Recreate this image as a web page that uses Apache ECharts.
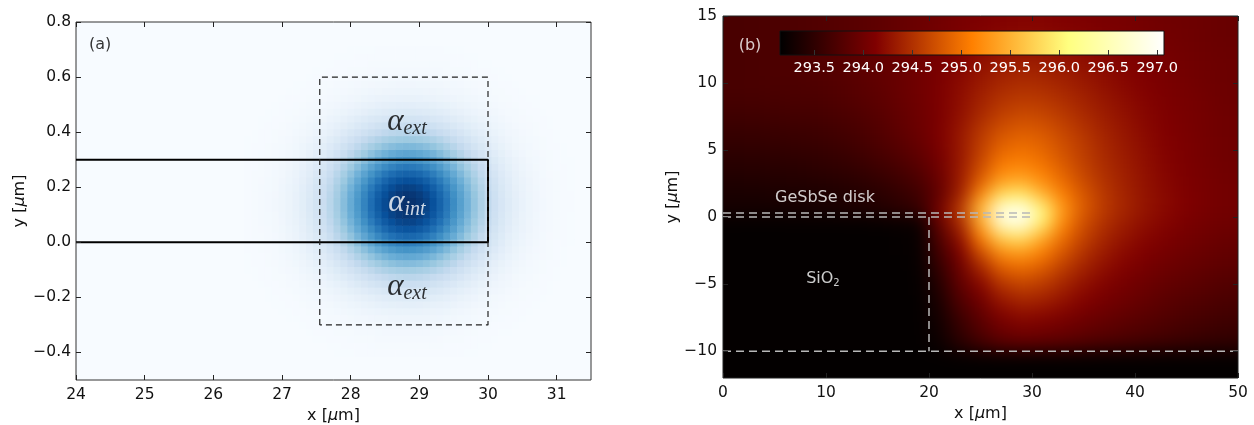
<!DOCTYPE html>
<html><head><meta charset="utf-8">
<script src="https://cdn.jsdelivr.net/npm/echarts@6/dist/echarts.min.js"></script>
<style>
html,body{margin:0;padding:0;background:#fff;}
#wrap{position:relative;width:1254px;height:425px;overflow:hidden;}
#heatB{position:absolute;left:723px;top:16px;width:515px;height:362px;overflow:hidden;background:#000;}
#heatBInner{position:absolute;left:-30px;top:-30px;width:575px;height:422px;filter:blur(9px);}
#main{position:absolute;left:0;top:0;width:1254px;height:425px;}
</style></head>
<body>
<div id="wrap">
  <div id="heatB"><div id="heatBInner"></div></div>
  <div id="main"></div>
</div>
<script>
// ---------- Panel (a): normalised mode intensity, profiles read across the spot ----------
const aProfileX = [26.5,26.6,26.7,26.8,26.9,27.0,27.1,27.2,27.3,27.4,27.5,27.6,27.7,27.8,27.9,28.0,28.1,28.2,28.3,28.4,28.5,28.6,28.7,28.8,28.9,29.0,29.1,29.2,29.3,29.4,29.5,29.6,29.7,29.8,29.9,30.0,30.1,30.2,30.3,30.4,30.5,30.6,30.7,30.8,30.9,31.0,31.1,31.2];
const aProfileXVal = [.007,.01,.014,.02,.028,.04,.057,.076,.105,.139,.181,.231,.291,.359,.433,.514,.598,.681,.763,.837,.9,.95,.984,.999,.995,.972,.932,.876,.808,.731,.648,.564,.482,.403,.33,.267,.211,.162,.123,.093,.068,.05,.036,.023,.015,.01,.006,.004];
const aProfileY = [-0.400,-0.375,-0.350,-0.325,-0.300,-0.275,-0.250,-0.225,-0.200,-0.175,-0.150,-0.125,-0.100,-0.075,-0.050,-0.025,0.000,0.025,0.050,0.075,0.100,0.125,0.150,0.175,0.200,0.225,0.250,0.275,0.300,0.325,0.350,0.375,0.400,0.425,0.450,0.475,0.500,0.525,0.550,0.575,0.600,0.625,0.650,0.675,0.700];
const aProfileYVal = [.007,.01,.015,.022,.032,.047,.065,.093,.127,.171,.224,.286,.358,.438,.526,.616,.705,.79,.866,.927,.972,.996,.998,.978,.938,.879,.806,.723,.634,.543,.455,.374,.299,.235,.181,.135,.1,.071,.05,.036,.023,.016,.011,.007,.005];
// waveguide outline and integration box (x, y in µm)
const aGuide = [[24,0.3],[30,0.3],[30,0],[24,0]];
const aBox = [[27.55,-0.3],[27.55,0.6],[30,0.6],[30,-0.3],[27.55,-0.3]];
const aXTicks = [24,25,26,27,28,29,30,31];
const aYTicks = [-0.4,-0.2,0.0,0.2,0.4,0.6,0.8];

// ---------- Panel (b): temperature map (rise above 293.15 K), 2 µm x 1 µm cells ----------
const bBaseK = 293.15;
const bCellX = [1,3,5,7,9,11,13,15,17,19,21,23,25,27,29,31,33,35,37,39,41,43,45,47,49];
const bCellY = [14.5,13.5,12.5,11.5,10.5,9.5,8.5,7.5,6.5,5.5,4.5,3.5,2.5,1.5,0.5,-0.5,-1.5,-2.5,-3.5,-4.5,-5.5,-6.5,-7.5,-8.5,-9.5,-10.5,-11.5];
const bRiseK = [
 [.56,.57,.58,.60,.62,.65,.68,.72,.77,.82,.87,.92,.96,.99,1.0,1.0,.98,.96,.93,.91,.88,.86,.84,.82,.80],
 [.56,.57,.58,.60,.62,.65,.69,.73,.78,.83,.89,.95,1.0,1.04,1.06,1.05,1.03,1.0,.97,.94,.90,.87,.85,.82,.80],
 [.56,.57,.58,.60,.62,.65,.69,.74,.79,.85,.91,.98,1.05,1.10,1.13,1.12,1.09,1.05,1.01,.97,.93,.89,.86,.83,.81],
 [.56,.57,.58,.60,.62,.65,.69,.74,.80,.86,.93,1.01,1.10,1.17,1.20,1.19,1.15,1.10,1.05,1.00,.95,.91,.87,.84,.82],
 [.56,.57,.58,.60,.62,.65,.69,.74,.80,.86,.94,1.04,1.15,1.24,1.28,1.26,1.21,1.15,1.08,1.02,.97,.92,.88,.85,.82],
 [.55,.56,.57,.58,.60,.63,.67,.72,.79,.86,.95,1.07,1.20,1.31,1.36,1.34,1.28,1.20,1.12,1.05,.99,.94,.90,.86,.83],
 [.52,.53,.54,.55,.57,.60,.64,.70,.77,.85,.95,1.09,1.25,1.39,1.45,1.43,1.35,1.25,1.16,1.08,1.01,.95,.91,.87,.83],
 [.48,.49,.50,.51,.53,.56,.60,.66,.74,.83,.94,1.10,1.30,1.48,1.56,1.53,1.43,1.31,1.20,1.11,1.03,.97,.92,.88,.84],
 [.43,.44,.45,.46,.48,.51,.56,.63,.72,.82,.96,1.15,1.40,1.60,1.68,1.64,1.51,1.37,1.24,1.14,1.05,.98,.93,.88,.84],
 [.38,.39,.40,.41,.43,.46,.51,.58,.67,.78,.94,1.16,1.45,1.71,1.80,1.74,1.58,1.43,1.28,1.16,1.07,.99,.94,.89,.85],
 [.33,.34,.35,.36,.38,.41,.46,.53,.61,.72,.90,1.15,1.50,1.83,1.90,1.80,1.63,1.45,1.30,1.19,1.09,1.00,.94,.89,.85],
 [.28,.29,.30,.31,.33,.35,.39,.45,.53,.64,.85,1.17,1.60,2.00,2.07,1.93,1.72,1.50,1.33,1.21,1.10,1.01,.95,.90,.86],
 [.23,.24,.25,.26,.27,.29,.32,.37,.45,.56,.80,1.18,1.75,2.25,2.35,2.10,1.82,1.57,1.37,1.23,1.12,1.03,.96,.91,.87],
 [.19,.19,.20,.20,.21,.23,.26,.30,.37,.47,.75,1.25,2.10,2.80,2.90,2.45,1.98,1.66,1.41,1.25,1.13,1.04,.97,.91,.87],
 [.15,.15,.15,.16,.17,.19,.22,.26,.32,.42,.90,1.45,2.45,3.75,3.90,3.00,2.15,1.68,1.42,1.26,1.13,1.04,.97,.91,.87],
 [.03,.03,.03,.03,.03,.03,.03,.04,.05,.07,.75,1.28,2.25,3.55,3.70,2.80,2.00,1.58,1.34,1.19,1.08,1.00,.93,.88,.84],
 [.03,.03,.03,.03,.03,.03,.03,.03,.04,.06,.62,1.12,1.95,2.60,2.75,2.30,1.82,1.50,1.27,1.13,1.03,.95,.89,.84,.80],
 [.03,.03,.03,.03,.03,.03,.03,.03,.04,.05,.52,.97,1.62,2.12,2.22,1.98,1.66,1.38,1.19,1.06,.97,.90,.84,.80,.76],
 [.03,.03,.03,.03,.03,.03,.03,.03,.03,.05,.42,.86,1.33,1.78,1.88,1.75,1.49,1.27,1.11,1.00,.92,.85,.80,.76,.72],
 [.03,.03,.03,.03,.03,.03,.03,.03,.03,.04,.33,.78,1.12,1.50,1.62,1.53,1.33,1.16,1.03,.93,.86,.79,.74,.70,.66],
 [.03,.03,.03,.03,.03,.03,.03,.03,.03,.04,.26,.68,.96,1.28,1.40,1.35,1.20,1.06,.95,.87,.80,.73,.68,.64,.60],
 [.03,.03,.03,.03,.03,.03,.03,.03,.03,.03,.20,.58,.83,1.10,1.22,1.18,1.08,.97,.88,.81,.74,.68,.63,.59,.55],
 [.03,.03,.03,.03,.03,.03,.03,.03,.03,.03,.16,.46,.72,.95,1.04,1.01,.94,.86,.79,.73,.67,.62,.57,.53,.49],
 [.03,.03,.03,.03,.03,.03,.03,.03,.03,.03,.12,.38,.62,.81,.88,.86,.81,.75,.69,.64,.59,.54,.50,.46,.42],
 [.03,.03,.03,.03,.03,.03,.03,.03,.03,.03,.09,.30,.50,.66,.72,.70,.67,.62,.57,.53,.49,.45,.41,.38,.35],
 [.02,.02,.02,.02,.02,.02,.02,.02,.02,.02,.02,.02,.02,.02,.02,.02,.02,.02,.02,.02,.02,.02,.02,.02,.02],
 [.02,.02,.02,.02,.02,.02,.02,.02,.02,.02,.02,.02,.02,.02,.02,.02,.02,.02,.02,.02,.02,.02,.02,.02,.02]
];
// structure outlines (µm)
const bDiskTop = [[0,0.3],[30,0.3]];
const bDiskBottom = [[0,0],[30,0]];
const bBoxSide = [[20,0],[20,-10]];
const bSubstrate = [[0,-10],[50,-10]];
const bXTicks = [0,10,20,30,40,50];
const bYTicks = [-10,-5,0,5,10,15];
const cbRange = [293.15, 297.07];
const cbTicks = [293.5,294.0,294.5,295.0,295.5,296.0,296.5,297.0];

// ---------- colour maps ----------
const blues = ['#f7fbff','#deebf7','#c6dbef','#9ecae1','#6baed6','#4292c6','#2171b5','#08519c','#08306b'];
const afmhot = ['#000000','#800000','#ff8000','#ffff80','#ffffff'];

// ---------- build cells ----------
const cellsA = [];
aProfileY.forEach((y, j) => aProfileX.forEach((x, i) => cellsA.push([x, y, aProfileXVal[i] * aProfileYVal[j]])));
const aDx = aProfileX[1] - aProfileX[0], aDy = aProfileY[1] - aProfileY[0];

const cellsB = [];
bCellY.forEach((y, r) => bCellX.forEach((x, c) => cellsB.push([x, y, bBaseK + bRiseK[r][c], c, r])));
const bDx = bCellX[1] - bCellX[0], bDy = bCellY[0] - bCellY[1];
const PAD = 30;

// ---------- blurred temperature layer ----------
const chartB = echarts.init(document.getElementById('heatBInner'));
chartB.setOption({
  animation: false,
  grid: {left: PAD, top: PAD, width: 515, height: 362, outerBoundsMode: 'none'},
  xAxis: {type: 'value', min: 0, max: 50, show: false},
  yAxis: {type: 'value', min: -12, max: 15, show: false},
  visualMap: {type: 'continuous', show: false, dimension: 2, min: cbRange[0], max: cbRange[1], inRange: {color: afmhot}},
  series: [{
    type: 'custom', clip: false, data: cellsB,
    renderItem: function (params, api) {
      const x = api.value(0), y = api.value(1), c = api.value(3), r = api.value(4);
      const p0 = api.coord([x - bDx / 2, y + bDy / 2]);
      const p1 = api.coord([x + bDx / 2, y - bDy / 2]);
      let x0 = p0[0], y0 = p0[1], x1 = p1[0], y1 = p1[1];
      if (c === 0) x0 -= PAD;
      if (c === bCellX.length - 1) x1 += PAD;
      if (r === 0) y0 -= PAD;
      if (r === bCellY.length - 1) y1 += PAD;
      return {type: 'rect', shape: {x: x0, y: y0, width: x1 - x0 + 1, height: y1 - y0 + 1}, style: {fill: api.visual('color')}};
    }
  }]
});

// ---------- main chart: axes, outlines, text, colour bar ----------
const FONT = 'DejaVu Sans';
const tickLab = {fontFamily: FONT, fontSize: 15.5, color: '#111'};
const fmt1 = v => (v < 0 ? '\u2212' : '') + Math.abs(v).toFixed(1);
const fmt0 = v => (v < 0 ? '\u2212' : '') + Math.abs(v);
function tick(vals) { return {show: true, inside: true, length: 5, customValues: vals, lineStyle: {color: '#222', width: 1}}; }
const noLine = {show: false, onZero: false};
const nameStyle = {fontFamily: FONT, fontSize: 16, color: '#111', rich: {i: {fontFamily: FONT, fontStyle: 'italic', fontSize: 16, color: '#111'}}};
const mathRich = (col) => ({
  a: {fontFamily: 'Liberation Serif', fontStyle: 'italic', fontSize: 31, color: col},
  s: {fontFamily: 'Liberation Serif', fontStyle: 'italic', fontSize: 20, color: col, padding: [13, 0, 0, 0]}
});
const notesA = [
  {value: [24.35, 0.716], label: {formatter: '(a)', fontFamily: FONT, fontSize: 16, color: '#000'}},
  {value: [28.82, 0.437], label: {formatter: '{a|\u03b1}{s|ext}', rich: mathRich('#000')}},
  {value: [28.82, 0.143], label: {formatter: '{a|\u03b1}{s|int}', rich: mathRich('#ffffff')}},
  {value: [28.82, -0.162], label: {formatter: '{a|\u03b1}{s|ext}', rich: mathRich('#000')}}
];
const notesB = [
  {value: [2.62, 12.76], label: {formatter: '(b)', fontFamily: FONT, fontSize: 16, color: '#ffffff'}},
  {value: [9.9, 1.43], label: {formatter: 'GeSbSe disk', fontFamily: FONT, fontSize: 16, color: '#ffffff'}},
  {value: [9.7, -4.6], label: {formatter: '{t|SiO}{s|2}', rich: {t: {fontFamily: FONT, fontSize: 16, color: '#fff'}, s: {fontFamily: FONT, fontSize: 10, color: '#fff', padding: [10, 0, 0, 0]}}}}
];
const dashGray = {color: '#b8b8b8', width: 1.5, type: [8, 5]};
function lineSeries(xi, data, style) {
  return {type: 'line', xAxisIndex: xi, yAxisIndex: xi, data: data, symbol: 'none', lineStyle: style, silent: true, z: 4, animation: false};
}

const chart = echarts.init(document.getElementById('main'));
chart.setOption({
  animation: false,
  backgroundColor: 'transparent',
  grid: [
    {left: 76, top: 22, width: 515, height: 358, show: true, backgroundColor: '#f7fbff', borderColor: '#333', borderWidth: 1, outerBoundsMode: 'none'},
    {left: 723, top: 16, width: 515, height: 362, show: true, backgroundColor: 'transparent', borderColor: '#222', borderWidth: 1, outerBoundsMode: 'none'},
    {left: 780, top: 31, width: 384, height: 24, show: false, outerBoundsMode: 'none'}
  ],
  visualMap: [{type: 'continuous', show: false, seriesIndex: 0, dimension: 2, min: 0, max: 1, inRange: {color: blues}}],
  xAxis: [
    {gridIndex: 0, type: 'value', min: 24, max: 31.5, position: 'bottom', z: 5, axisLine: noLine, splitLine: {show: false},
     axisTick: tick(aXTicks), axisLabel: Object.assign({customValues: aXTicks, margin: 7, formatter: fmt0}, tickLab),
     name: 'x [{i|\u03bc}m]', nameLocation: 'middle', nameGap: 26, nameTextStyle: nameStyle},
    {gridIndex: 0, type: 'value', min: 24, max: 31.5, position: 'top', z: 5, axisLine: noLine, splitLine: {show: false},
     axisTick: tick(aXTicks), axisLabel: {show: false}},
    {gridIndex: 1, type: 'value', min: 0, max: 50, position: 'bottom', z: 5, axisLine: noLine, splitLine: {show: false},
     axisTick: tick(bXTicks), axisLabel: Object.assign({customValues: bXTicks, margin: 7, formatter: fmt0}, tickLab),
     name: 'x [{i|\u03bc}m]', nameLocation: 'middle', nameGap: 26, nameTextStyle: nameStyle},
    {gridIndex: 1, type: 'value', min: 0, max: 50, position: 'top', z: 5, axisLine: noLine, splitLine: {show: false},
     axisTick: tick(bXTicks), axisLabel: {show: false}},
    {gridIndex: 2, type: 'value', min: cbRange[0], max: cbRange[1], position: 'bottom', z: 6, axisLine: noLine, splitLine: {show: false},
     axisTick: {show: true, inside: true, length: 5, customValues: cbTicks, lineStyle: {color: '#333', width: 1}},
     axisLabel: {customValues: cbTicks, margin: 6, formatter: v => v.toFixed(1), fontFamily: FONT, fontSize: 14.5, color: '#ffffff'}}
  ],
  yAxis: [
    {gridIndex: 0, type: 'value', min: -0.5, max: 0.8, position: 'left', z: 5, axisLine: noLine, splitLine: {show: false},
     axisTick: tick(aYTicks), axisLabel: Object.assign({customValues: aYTicks, margin: 5, formatter: fmt1}, tickLab),
     name: 'y [{i|\u03bc}m]', nameLocation: 'middle', nameGap: 48, nameTextStyle: nameStyle},
    {gridIndex: 0, type: 'value', min: -0.5, max: 0.8, position: 'right', z: 5, axisLine: noLine, splitLine: {show: false},
     axisTick: tick(aYTicks), axisLabel: {show: false}},
    {gridIndex: 1, type: 'value', min: -12, max: 15, position: 'left', z: 5, axisLine: noLine, splitLine: {show: false},
     axisTick: tick(bYTicks), axisLabel: Object.assign({customValues: bYTicks, margin: 6, formatter: fmt0}, tickLab),
     name: 'y [{i|\u03bc}m]', nameLocation: 'middle', nameGap: 40, nameTextStyle: nameStyle},
    {gridIndex: 1, type: 'value', min: -12, max: 15, position: 'right', z: 5, axisLine: noLine, splitLine: {show: false},
     axisTick: tick(bYTicks), axisLabel: {show: false}},
    {gridIndex: 2, type: 'value', min: 0, max: 1, show: false, axisLine: noLine}
  ],
  series: [
    {type: 'custom', xAxisIndex: 0, yAxisIndex: 0, data: cellsA, z: 1, silent: true,
     renderItem: function (params, api) {
       const x = api.value(0), y = api.value(1);
       const p0 = api.coord([x - aDx / 2, y + aDy / 2]);
       const p1 = api.coord([x + aDx / 2, y - aDy / 2]);
       return {type: 'rect', shape: {x: p0[0], y: p0[1], width: p1[0] - p0[0] + 0.6, height: p1[1] - p0[1] + 0.6}, style: {fill: api.visual('color')}};
     }},
    lineSeries(0, aGuide, {color: '#000', width: 2}),
    lineSeries(0, aBox, {color: '#222', width: 1.2, type: [6, 4]}),
    lineSeries(2, bDiskTop, dashGray),
    lineSeries(2, bDiskBottom, dashGray),
    lineSeries(2, bBoxSide, dashGray),
    lineSeries(2, bSubstrate, dashGray),
    {type: 'custom', xAxisIndex: 4, yAxisIndex: 4, data: [cbRange], z: 3, silent: true,
     renderItem: function (params, api) {
       const p0 = api.coord([api.value(0), 1]);
       const p1 = api.coord([api.value(1), 0]);
       const stops = afmhot.map((c, i) => ({offset: i / (afmhot.length - 1), color: c}));
       return {type: 'rect', shape: {x: p0[0], y: p0[1], width: p1[0] - p0[0], height: p1[1] - p0[1]},
               style: {fill: new echarts.graphic.LinearGradient(0, 0, 1, 0, stops), stroke: '#111', lineWidth: 1}};
     }},
    {type: 'scatter', xAxisIndex: 0, yAxisIndex: 0, symbolSize: 0, z: 10, silent: true, itemStyle: {color: 'transparent'},
     label: {show: true, position: 'inside'}, data: notesA},
    {type: 'scatter', xAxisIndex: 2, yAxisIndex: 2, symbolSize: 0, z: 10, silent: true, itemStyle: {color: 'transparent'},
     label: {show: true, position: 'inside'}, data: notesB}
  ]
});
</script>
</body></html>
